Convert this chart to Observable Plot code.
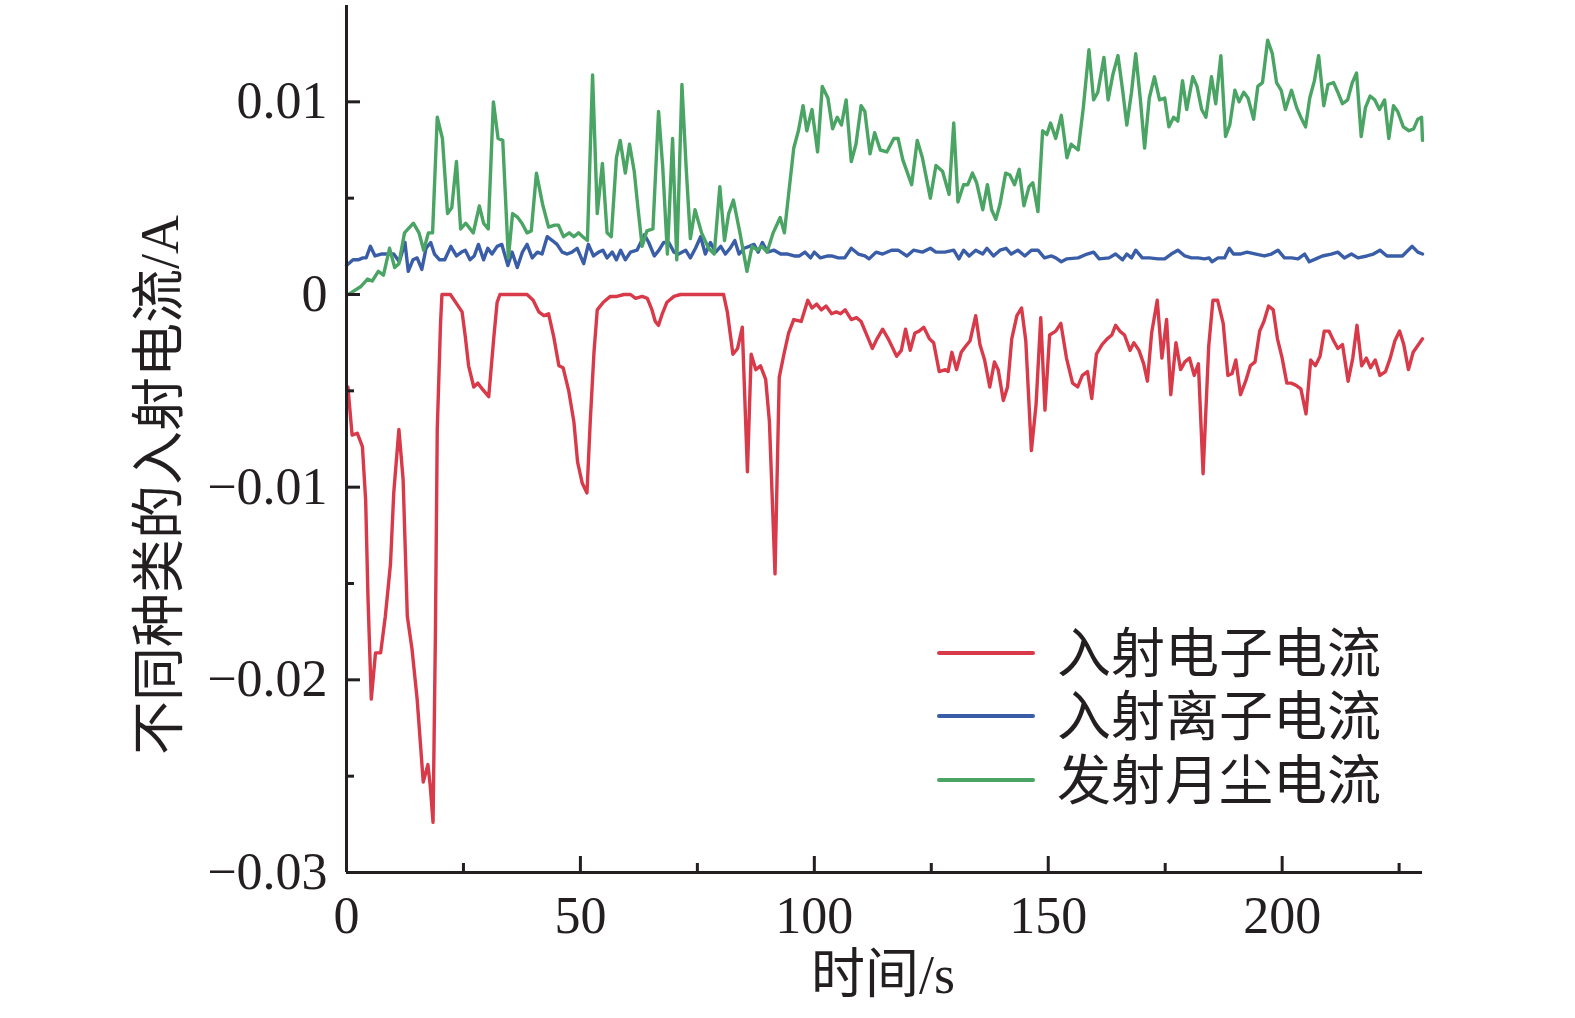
<!DOCTYPE html>
<html><head><meta charset="utf-8">
<script src="https://cdn.jsdelivr.net/npm/d3@7"></script>
<script src="https://cdn.jsdelivr.net/npm/@observablehq/plot@0.6"></script>
<style>
html,body{margin:0;padding:0;background:#fff;overflow:hidden;width:1575px;height:1018px;}
#wrap{position:relative;width:1575px;height:1018px;overflow:hidden;}
#wrap svg{max-width:none !important;display:block;}
.lbl{position:absolute;font-family:"Liberation Serif","Noto Sans CJK SC",serif;color:#231f20;white-space:nowrap;font-size:54px;line-height:54px;}
.sw{position:absolute;height:4px;border-radius:2px;}
</style></head><body><div id="wrap"></div>
<script>
const seriesNames = ["入射电子电流","入射离子电流","发射月尘电流"];
const seriesColors = ["#d83a4a","#3a5da8","#4aa464"];
const xLabel = "时间/s";
const yLabel = "不同种类的入射电流/A";
const xTicks = [0,50,100,150,200];
const xMinor = [25,75,125,175,225];
const yTicks = [-0.03,-0.02,-0.01,0,0.01];
const yMinor = [-0.025,-0.015,-0.005,0.005];

// 入射电子电流
const electronT = [0.3,1.2,2.3,3.4,4.1,4.6,5.3,6.2,7.3,8.3,9.4,10.1,11.2,12.1,13,14,15.1,15.8,16.4,17.4,17.9,18.5,19,19.4,20.1,20.4,22.2,23.6,24.7,25.4,26.1,27.2,28.1,29,30.4,31.5,32.2,32.8,38.6,39.9,41.1,42.2,43.2,44.3,45.4,46.3,47.5,48.6,49.4,50.4,51.4,52.1,52.9,53.6,54.9,56.4,57.8,59.3,60.7,61.8,63.2,64.3,65.3,66,66.7,67.5,68.5,70,71.4,80.6,81.4,82.6,83.6,84.6,85.7,86.5,87.5,88.5,89.6,90.4,91.6,92.5,93.5,94.5,95.6,97.2,98.6,99.5,100.5,101.5,102.5,103.7,104.7,105.6,106.6,107.9,109,110,111.2,112.4,113.4,114.6,115.8,117.6,118.6,119.5,120.5,121.5,122.4,123.4,124.6,125.5,126.7,128,128.6,129.4,130.4,131.4,132.3,133.3,134.5,135.4,136.4,137.5,138.5,139.3,140.4,141.3,142.2,143.3,144.3,145.2,146.4,147.4,148.4,149.3,150.3,151.6,152.7,153.9,155.2,156.3,157.3,158.4,159.3,160.3,161.5,162.6,163.6,164.4,165.3,166.3,167.5,168.3,169.4,170.4,171.2,172.1,173.3,174.3,175.3,176.2,177.3,178.3,179.2,180.2,181.2,182.1,183.1,184.3,185.2,186.2,187.4,188.4,189.3,190.1,191.1,192.2,193.2,194.2,195.2,196.1,197.1,198.1,199,200,201,201.9,202.9,204,205.1,206.1,207.1,208.1,209,210,211,211.9,212.9,214.1,215.1,216,217,218,218.9,219.9,220.9,222.1,223.1,224.1,225.1,226,227,228,230];
const electronI = [-0.0048,-0.0073,-0.0072,-0.0079,-0.0107,-0.0158,-0.0210,-0.0186,-0.0186,-0.0167,-0.0140,-0.0103,-0.0070,-0.0096,-0.0167,-0.0184,-0.0210,-0.0233,-0.0253,-0.0244,-0.0255,-0.0274,-0.0177,-0.0070,-0.0015,0,0,-0.0005,-0.0009,-0.0022,-0.0037,-0.0048,-0.0046,-0.0049,-0.0053,-0.0022,-0.0004,0,0,-0.0003,-0.0009,-0.0011,-0.0010,-0.0022,-0.0037,-0.0038,-0.0050,-0.0066,-0.0087,-0.0098,-0.0103,-0.0066,-0.0030,-0.0008,-0.0004,-0.0001,-0.0001,0,0,-0.0002,-0.0001,-0.0002,-0.0008,-0.0014,-0.0016,-0.0010,-0.0004,-0.0001,0,0,-0.0009,-0.0031,-0.0028,-0.0017,-0.0092,-0.0031,-0.0039,-0.0037,-0.0044,-0.0066,-0.0145,-0.0043,-0.0031,-0.0020,-0.0013,-0.0014,-0.0003,-0.0007,-0.0005,-0.0008,-0.0006,-0.0010,-0.0009,-0.0010,-0.0008,-0.0013,-0.0012,-0.0014,-0.0021,-0.0028,-0.0023,-0.0018,-0.0023,-0.0032,-0.0029,-0.0018,-0.0029,-0.0020,-0.0019,-0.0017,-0.0023,-0.0025,-0.0040,-0.0039,-0.0040,-0.0030,-0.0039,-0.0030,-0.0027,-0.0024,-0.0011,-0.0026,-0.0034,-0.0048,-0.0035,-0.0039,-0.0055,-0.0048,-0.0023,-0.0011,-0.0007,-0.0024,-0.0081,-0.0057,-0.0012,-0.0060,-0.0021,-0.0019,-0.0015,-0.0033,-0.0046,-0.0048,-0.0042,-0.0040,-0.0054,-0.0031,-0.0026,-0.0023,-0.0021,-0.0016,-0.0019,-0.0021,-0.0029,-0.0025,-0.0029,-0.0036,-0.0045,-0.0020,-0.0003,-0.0033,-0.0013,-0.0052,-0.0025,-0.0039,-0.0035,-0.0033,-0.0042,-0.0036,-0.0093,-0.0027,-0.0003,-0.0003,-0.0015,-0.0042,-0.0041,-0.0034,-0.0052,-0.0045,-0.0037,-0.0035,-0.0019,-0.0014,-0.0006,-0.0008,-0.0023,-0.0033,-0.0046,-0.0046,-0.0047,-0.0049,-0.0062,-0.0034,-0.0037,-0.0032,-0.0019,-0.0019,-0.0024,-0.0028,-0.0026,-0.0045,-0.0033,-0.0016,-0.0037,-0.0033,-0.0038,-0.0034,-0.0042,-0.0040,-0.0033,-0.0024,-0.0019,-0.0026,-0.0039,-0.0030,-0.0023];

// 入射离子电流
const ionT = [0,1.4,2.5,3.5,4.2,5.1,6.1,7.4,8.8,10.1,11.3,12.5,13.2,14.2,15.1,16.1,17,18,18.8,19.9,21,22.3,23.5,24.6,25.4,26.4,27.3,28.2,29.3,30.2,31.1,32.2,33.2,34.5,35.4,36.5,37.6,38.6,39.7,40.8,41.8,42.9,44,45,46.1,47.2,48.2,49.3,50.7,51.7,52.8,53.9,54.8,55.7,56.8,57.7,58.6,59.6,60.7,62.1,63.7,64.6,65.8,66.8,67.8,68.9,70,71,72.5,73.5,74.6,75.7,76.7,77.8,78.9,80,81,82,83,83.9,85,86.1,87.1,88,88.9,90,91.4,92.8,94.3,95.7,96.8,98,99.2,100,101.3,102.9,103.7,105.1,106.5,107.9,109.4,110.8,111.7,113.2,114.6,116.5,117.9,119.8,121.2,123.1,124.8,126,127.9,129.8,130.9,131.9,133.1,134.5,136,136.9,138.3,139.7,141,142.1,143.5,145,146.4,147.8,149.2,150.7,151.6,152.8,154,156.4,158.3,159.7,160.9,163,164.4,165.9,166.8,167.8,168.7,170.1,171.6,173.5,174.9,176.3,177.7,179.2,180.6,182,183.4,184.4,185,186.3,187.7,188.7,189.6,191,192.5,194.4,196.2,197.7,199.1,200.5,202,203.4,204.8,205.8,207.2,208.6,210.5,211.9,213.3,214.8,216.2,218.1,219.5,220.9,222.4,223.8,225.7,227.8,229,230];
const ionI = [0.0015,0.0018,0.0018,0.0019,0.0019,0.0025,0.0020,0.0021,0.0021,0.0021,0.0017,0.0027,0.0012,0.0018,0.0019,0.0013,0.0024,0.0027,0.0021,0.0018,0.0018,0.0025,0.0020,0.0022,0.0023,0.0018,0.0020,0.0026,0.0018,0.0024,0.0021,0.0025,0.0026,0.0015,0.0022,0.0014,0.0022,0.0026,0.0019,0.0022,0.0021,0.0030,0.0028,0.0026,0.0022,0.0021,0.0022,0.0024,0.0016,0.0026,0.0020,0.0022,0.0023,0.0019,0.0022,0.0018,0.0023,0.0018,0.0022,0.0023,0.0031,0.0027,0.0020,0.0023,0.0027,0.0027,0.0022,0.0021,0.0023,0.0019,0.0024,0.0030,0.0021,0.0027,0.0022,0.0025,0.0021,0.0024,0.0028,0.0021,0.0024,0.0025,0.0026,0.0022,0.0027,0.0022,0.0023,0.0021,0.0021,0.0020,0.0020,0.0022,0.0019,0.0022,0.0019,0.0020,0.0020,0.0019,0.0019,0.0024,0.0021,0.0020,0.00185,0.0022,0.0021,0.0023,0.0023,0.0020,0.0023,0.0022,0.0024,0.0022,0.0022,0.0023,0.00185,0.0023,0.0020,0.0023,0.0021,0.0024,0.0020,0.0023,0.0024,0.0021,0.0023,0.0020,0.0023,0.0023,0.0019,0.0020,0.0019,0.0017,0.00185,0.0019,0.0021,0.0022,0.00185,0.0019,0.0021,0.0018,0.0021,0.0019,0.0023,0.0019,0.0019,0.00185,0.00185,0.0021,0.0023,0.0020,0.0019,0.0019,0.00185,0.0019,0.0017,0.0019,0.0019,0.0024,0.0021,0.0021,0.0022,0.0021,0.0020,0.0021,0.0023,0.0019,0.0019,0.00185,0.0021,0.0017,0.00185,0.0020,0.0021,0.0022,0.0019,0.0021,0.0019,0.0020,0.0021,0.0023,0.0020,0.0020,0.0020,0.0025,0.0022,0.0021];

// 发射月尘电流
const dustT = [0.4,1,3,4.5,5.5,6.8,7.9,9.2,10.3,11.2,12.4,14.3,15.5,16.5,17.5,18.4,19.4,20.5,21.6,22.5,23.5,24.4,25.5,27.1,28.4,29.3,30.3,31.4,32.4,33.4,34.6,35.5,36.6,37.5,38.6,39.5,40.6,41.9,43.2,44.5,45.3,46.4,47.6,48.6,49.6,50.5,51.5,52.6,53.6,54.7,55.7,56.6,57.7,58.5,59.6,60.5,61.5,62.3,63.2,64.2,65.5,66.7,67.6,68.6,69.7,70.6,71.7,72.6,73.5,74.5,75.9,77.4,78.6,79.8,80.8,81.7,82.7,84.1,85.6,86.7,87.8,88.8,89.9,91.2,92.7,93.6,94.5,95.6,96.6,97.6,98.4,99.5,100.7,101.7,102.9,103.9,104.9,105.8,106.8,107.9,108.9,110,110.8,111.9,112.9,114.1,115.5,117,117.9,118.9,120.8,122,123.1,124.8,126,127.4,128.8,129.8,130.7,131.9,132.8,133.8,134.7,136,137,137.9,138.8,139.7,140.9,141.8,142.8,143.8,144.8,145.9,146.7,147.8,148.8,149.7,150.5,151.6,152.8,154,154.9,156.4,157.5,158.7,159.7,160.6,161.9,162.8,163.8,164.9,165.9,166.8,167.8,168.7,169.7,170.6,171.6,172.7,173.8,174.9,175.8,176.8,177.7,178.7,179.6,180.9,181.8,182.8,183.7,184.9,185.8,186.9,187.9,188.8,189.9,190.8,191.8,192.7,193.9,194.8,195.8,196.9,197.9,198.8,199.8,200.7,202,203.1,204,205,205.9,206.9,207.8,208.9,209.8,211,211.9,212.9,214,215,215.9,216.9,217.8,218.8,219.8,220.8,221.9,222.8,223.8,224.7,225.9,227.1,228.1,229,229.8,230];
const dustI = [0,0.0001,0.0004,0.0008,0.0007,0.0012,0.0010,0.0024,0.0014,0.0016,0.0032,0.0037,0.0032,0.0023,0.0032,0.0032,0.0092,0.0081,0.0042,0.0045,0.0069,0.0034,0.0037,0.0032,0.0046,0.0037,0.0034,0.0100,0.0081,0.0080,0.0019,0.0042,0.0040,0.0037,0.0032,0.0033,0.0063,0.0047,0.0035,0.0036,0.0036,0.0030,0.0032,0.0030,0.0032,0.0030,0.0028,0.0114,0.0042,0.0068,0.0032,0.0030,0.0071,0.0080,0.0063,0.0078,0.0064,0.0045,0.0025,0.0033,0.0034,0.0095,0.0066,0.0021,0.0081,0.0018,0.0109,0.0066,0.0029,0.0044,0.0032,0.0024,0.0021,0.0056,0.0028,0.0042,0.0049,0.0032,0.0012,0.0025,0.0023,0.0025,0.0022,0.0032,0.0040,0.0032,0.0052,0.0076,0.0085,0.0098,0.0085,0.0096,0.0074,0.0108,0.0102,0.0086,0.0092,0.0088,0.0101,0.0069,0.0078,0.0098,0.0095,0.0073,0.0084,0.0075,0.0074,0.0081,0.0081,0.0070,0.0057,0.0080,0.0071,0.0050,0.0067,0.0064,0.0052,0.0089,0.0048,0.0057,0.0057,0.0063,0.0058,0.0044,0.0057,0.0044,0.0039,0.0047,0.0063,0.0062,0.0057,0.0065,0.0046,0.0056,0.0058,0.0043,0.0085,0.0083,0.0089,0.0081,0.0093,0.0071,0.0078,0.0075,0.0097,0.0127,0.0101,0.0105,0.0123,0.0101,0.0114,0.0124,0.0106,0.0088,0.0105,0.0125,0.0101,0.0076,0.0102,0.0113,0.0101,0.0102,0.0087,0.0092,0.0090,0.0111,0.0096,0.0113,0.0108,0.0096,0.0092,0.0113,0.0099,0.0124,0.0082,0.0088,0.0106,0.0100,0.0105,0.0102,0.0091,0.0108,0.0110,0.0132,0.0125,0.0110,0.0106,0.0096,0.0106,0.0097,0.0092,0.0087,0.0102,0.0111,0.0124,0.0098,0.0109,0.0110,0.0105,0.0099,0.0101,0.0110,0.0115,0.0082,0.0097,0.0103,0.0101,0.0096,0.0101,0.0081,0.0098,0.0095,0.0087,0.0085,0.0086,0.0091,0.0092,0.0080];

const rows = [];
electronT.forEach((t,i)=>rows.push({t, v: electronI[i], s: seriesNames[0]}));
ionT.forEach((t,i)=>rows.push({t, v: ionI[i], s: seriesNames[1]}));
dustT.forEach((t,i)=>rows.push({t, v: dustI[i], s: seriesNames[2]}));

const fmtY = d => d === 0 ? "0" : (d < 0 ? "\u2212" : "") + Math.abs(d).toFixed(2);
const ink = "#231f20";

const chart = Plot.plot({
  width: 1575, height: 1018,
  marginLeft: 346, marginRight: 153, marginTop: 5, marginBottom: 146,
  style: {fontFamily: '"Liberation Serif", "Noto Sans CJK SC", serif', fontSize: "52px", color: ink, background: "white", maxWidth: "none"},
  x: {domain: [0, 230]},
  y: {domain: [-0.03, 0.015]},
  color: {domain: seriesNames, range: seriesColors},
  marks: [
    Plot.line(rows, {x: "t", y: "v", z: "s", stroke: "s", strokeWidth: 3.4, strokeLinejoin: "round", strokeLinecap: "round"}),
    Plot.axisX({ticks: xTicks, tickSize: -16, tickPadding: 40, strokeWidth: 3, stroke: ink, fill: ink, tickFormat: d => String(d), label: null}),
    Plot.axisX({ticks: xMinor, tickSize: -9, strokeWidth: 3, stroke: ink, fill: "none", tickFormat: () => "", label: null}),
    Plot.axisY({ticks: yTicks, tickSize: -14, tickPadding: 33, strokeWidth: 3, stroke: ink, fill: ink, tickFormat: fmtY, label: null}),
    Plot.axisY({ticks: yMinor, tickSize: -8, strokeWidth: 3, stroke: ink, fill: "none", tickFormat: () => "", label: null}),
    Plot.ruleX([0], {stroke: ink, strokeWidth: 3}),
    Plot.ruleY([-0.03], {stroke: ink, strokeWidth: 3})
  ]
});

const wrap = document.getElementById("wrap");
wrap.appendChild(chart);

function addLabel(text, left, top, extra) {
  const d = document.createElement("div");
  d.className = "lbl";
  d.textContent = text;
  d.style.left = left + "px";
  d.style.top = top + "px";
  if (extra) Object.assign(d.style, extra);
  wrap.appendChild(d);
  return d;
}
addLabel(xLabel, 883, 975, {transform: "translate(-50%,-50%)"});
addLabel(yLabel, 160, 485, {transform: "translate(-50%,-50%) rotate(-90deg)"});

const legendY = [655, 718, 782];
seriesNames.forEach((name, i) => {
  const sw = document.createElement("div");
  sw.className = "sw";
  sw.style.left = "937px";
  sw.style.width = "98px";
  sw.style.top = (legendY[i] - 4) + "px";
  sw.style.background = seriesColors[i];
  wrap.appendChild(sw);
  addLabel(name, 1057, legendY[i] - 27);
});
</script>
</body></html>
